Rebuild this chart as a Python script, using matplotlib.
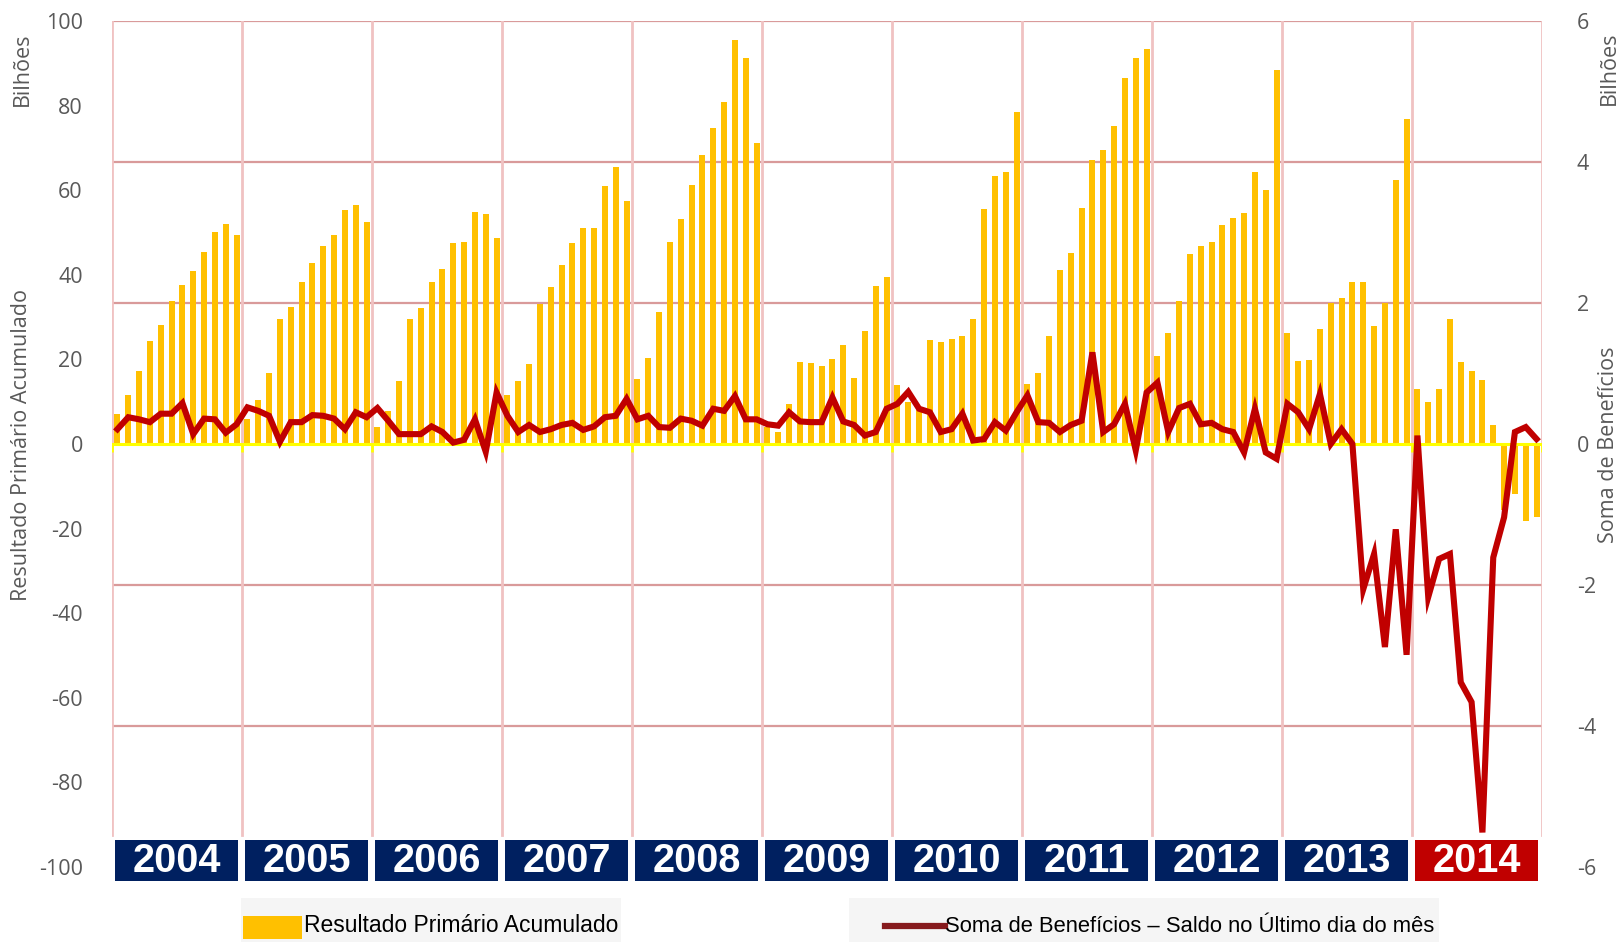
import matplotlib
matplotlib.use("Agg")
import matplotlib.pyplot as plt
import matplotlib.transforms as mtransforms
from matplotlib.patches import Rectangle
from matplotlib.lines import Line2D
import numpy as np

# Resultado primario acumulado (R$ bilhoes), by year, Jan..Dec
years = ["2004", "2005", "2006", "2007", "2008", "2009", "2010", "2011", "2012", "2013", "2014"]
res_2004 = [7.2, 11.6, 17.3, 24.4, 28.1, 33.8, 37.5, 40.8, 45.4, 50.2, 51.9, 49.3]
res_2005 = [6.0, 10.4, 16.9, 29.6, 32.4, 38.2, 42.9, 46.7, 49.4, 55.3, 56.5, 52.6]
res_2006 = [4.1, 7.7, 14.9, 29.6, 32.2, 38.2, 41.3, 47.5, 47.8, 54.8, 54.3, 48.7]
res_2007 = [11.6, 14.9, 18.9, 33.0, 37.2, 42.4, 47.5, 51.1, 51.1, 61.0, 65.5, 57.5]
res_2008 = [15.3, 20.4, 31.1, 47.8, 53.3, 61.2, 68.4, 74.7, 80.8, 95.5, 91.2, 71.1]
res_2009 = [4.0, 2.8, 9.4, 19.5, 19.1, 18.5, 20.0, 23.3, 15.6, 26.7, 37.4, 39.4]
res_2010 = [13.9, 10.0, 8.0, 24.6, 24.2, 24.8, 25.5, 29.6, 55.6, 63.3, 64.3, 78.5]
res_2011 = [14.2, 16.7, 25.5, 41.1, 45.2, 55.8, 67.2, 69.6, 75.1, 86.6, 91.2, 93.3]
res_2012 = [20.8, 26.2, 33.7, 45.0, 46.8, 47.8, 51.8, 53.5, 54.6, 64.3, 60.1, 88.3]
res_2013 = [26.2, 19.7, 19.9, 27.1, 33.3, 34.4, 38.2, 38.3, 27.8, 33.4, 62.3, 76.8]
res_2014 = [13.0, 9.9, 13.1, 29.6, 19.3, 17.3, 15.1, 4.6, -15.7, -11.8, -18.3, -17.3]

# Soma de beneficios - saldo no ultimo dia do mes (R$ bilhoes)
ben_2004 = [0.21, 0.38, 0.35, 0.31, 0.43, 0.43, 0.58, 0.14, 0.36, 0.35, 0.16, 0.28]
ben_2005 = [0.52, 0.47, 0.40, 0.03, 0.31, 0.31, 0.41, 0.40, 0.36, 0.21, 0.45, 0.38]
ben_2006 = [0.51, 0.33, 0.14, 0.14, 0.14, 0.25, 0.17, 0.02, 0.06, 0.35, -0.11, 0.73]
ben_2007 = [0.40, 0.17, 0.27, 0.17, 0.21, 0.27, 0.30, 0.20, 0.25, 0.38, 0.40, 0.64]
ben_2008 = [0.35, 0.40, 0.24, 0.23, 0.36, 0.33, 0.26, 0.50, 0.47, 0.68, 0.35, 0.35]
ben_2009 = [0.28, 0.26, 0.45, 0.32, 0.31, 0.31, 0.66, 0.32, 0.27, 0.12, 0.17, 0.50]
ben_2010 = [0.57, 0.74, 0.50, 0.45, 0.17, 0.21, 0.43, 0.05, 0.07, 0.31, 0.19, 0.45]
ben_2011 = [0.69, 0.31, 0.30, 0.17, 0.27, 0.33, 1.30, 0.17, 0.28, 0.57, -0.09, 0.73]
ben_2012 = [0.87, 0.17, 0.51, 0.57, 0.28, 0.30, 0.21, 0.17, -0.12, 0.50, -0.12, -0.21]
ben_2013 = [0.57, 0.45, 0.21, 0.71, 0.00, 0.21, 0.00, -2.06, -1.56, -2.88, -1.21, -2.99]
ben_2014 = [0.12, -2.17, -1.63, -1.56, -3.38, -3.66, -5.51, -1.61, -1.04, 0.17, 0.24, 0.07]

left_ticks = [100, 80, 60, 40, 20, 0, -20, -40, -60, -80, -100]
right_ticks = [6, 4, 2, 0, -2, -4, -6]

resultado = np.array(res_2004 + res_2005 + res_2006 + res_2007 + res_2008 + res_2009
                     + res_2010 + res_2011 + res_2012 + res_2013 + res_2014)
beneficios = np.array(ben_2004 + ben_2005 + ben_2006 + ben_2007 + ben_2008 + ben_2009
                      + ben_2010 + ben_2011 + ben_2012 + ben_2013 + ben_2014)
x = np.arange(len(resultado))

gray = "#595959"
W, H = 1623, 942
fig = plt.figure(figsize=(W / 100, H / 100), dpi=100)
ax = fig.add_axes([112 / W, 1 - 867 / H, 1430 / W, 846 / H])
ax2 = ax.twinx()

ax.set_xlim(-0.5, len(x) - 0.5)
ax.set_ylim(-100, 100)
ax2.set_ylim(-6, 6)

# grid (at the right axis ticks)
for v in right_ticks:
    if v in (0, -6):
        continue
    ax.axhline(v * 100 / 6, color="#D99A9A", lw=1.6, zorder=0)
vgrid_bottom = (867 - 835) / 846
for i in range(len(years) + 1):
    ax.axvline(12 * i - 0.5, ymin=vgrid_bottom, ymax=1, color="#F0C2C2", lw=2.0, zorder=0)

ax.bar(x, resultado, width=0.55, color="#FFC000", zorder=2)
ax.axhline(0, color="#FFFF00", lw=2.2, zorder=3)
ax.vlines([12 * i - 0.5 for i in range(len(years) + 1)], -1.8, 0, color="#FFFF00", lw=2, zorder=3)

ax2.plot(x, beneficios, color="#C00000", lw=4.4, solid_joinstyle="miter", zorder=4)

for a in (ax, ax2):
    for s in a.spines.values():
        s.set_visible(False)
    a.tick_params(length=0, colors=gray, labelsize=15.5)

ax.set_yticks(left_ticks)
ax.set_yticklabels([str(t) for t in left_ticks], fontfamily="Open Sans")
ax.tick_params(axis="y", pad=21)
ax.set_xticks([])
ax2.set_yticks(right_ticks)
ax2.set_yticklabels([str(t) for t in right_ticks], fontfamily="Open Sans")
ax2.tick_params(axis="y", pad=25)

# year boxes
trans = mtransforms.blended_transform_factory(ax.transData, ax.transAxes)
y0 = (867 - 881) / 846
y1 = (867 - 840) / 846
for i, yr in enumerate(years):
    col = "#C00000" if yr == "2014" else "#002060"
    ax.add_patch(Rectangle((12 * i - 0.5 + 0.32, y0), 12 - 0.7, y1 - y0, transform=trans,
                           facecolor=col, edgecolor="none", clip_on=False, zorder=5))
    ax.text(12 * i + 5.5, (y0 + y1) / 2, yr, transform=trans, ha="center", va="center",
            color="white", fontsize=28.5, fontweight="bold", fontfamily="Liberation Sans",
            zorder=6, clip_on=False)

# axis titles
fig.text(22 / W, 1 - 69 / H, "Bilhões", rotation=90, ha="center", va="center",
         color=gray, fontsize=15.5, fontfamily="Open Sans")
fig.text(22 / W, 1 - 445 / H, "Resultado Primário Acumulado", rotation=90, ha="center",
         va="center", color=gray, fontsize=15.5, fontfamily="Open Sans")
fig.text(1609 / W, 1 - 68 / H, "Bilhões", rotation=90, ha="center", va="center",
         color=gray, fontsize=15.5, fontfamily="Open Sans")
fig.text(1609 / W, 1 - 445 / H, "Soma de Benefícios", rotation=90, ha="center",
         va="center", color=gray, fontsize=15.5, fontfamily="Open Sans")

# legend (bottom)
fig.patches.append(Rectangle((241 / W, 0), 380 / W, 44 / H, transform=fig.transFigure,
                             facecolor="#F5F5F5", edgecolor="none"))
fig.patches.append(Rectangle((849 / W, 0), 590 / W, 44 / H, transform=fig.transFigure,
                             facecolor="#F5F5F5", edgecolor="none"))
fig.patches.append(Rectangle((243 / W, 1 - 939 / H), 59 / W, 23 / H, transform=fig.transFigure,
                             facecolor="#FFC000", edgecolor="none"))
fig.lines.append(Line2D([885 / W, 945 / W], [1 - 926 / H, 1 - 926 / H], transform=fig.transFigure,
                        color="#861A1D", lw=4.5))
fig.text(304 / W, 1 - 926 / H, "Resultado Primário Acumulado", ha="left", va="center",
         color="black", fontsize=16.5, fontfamily="Liberation Sans")
fig.text(945 / W, 1 - 926 / H, "Soma de Benefícios – Saldo no Último dia do mês", ha="left",
         va="center", color="black", fontsize=15.8, fontfamily="Liberation Sans")

fig.savefig("out.png", dpi=100)
